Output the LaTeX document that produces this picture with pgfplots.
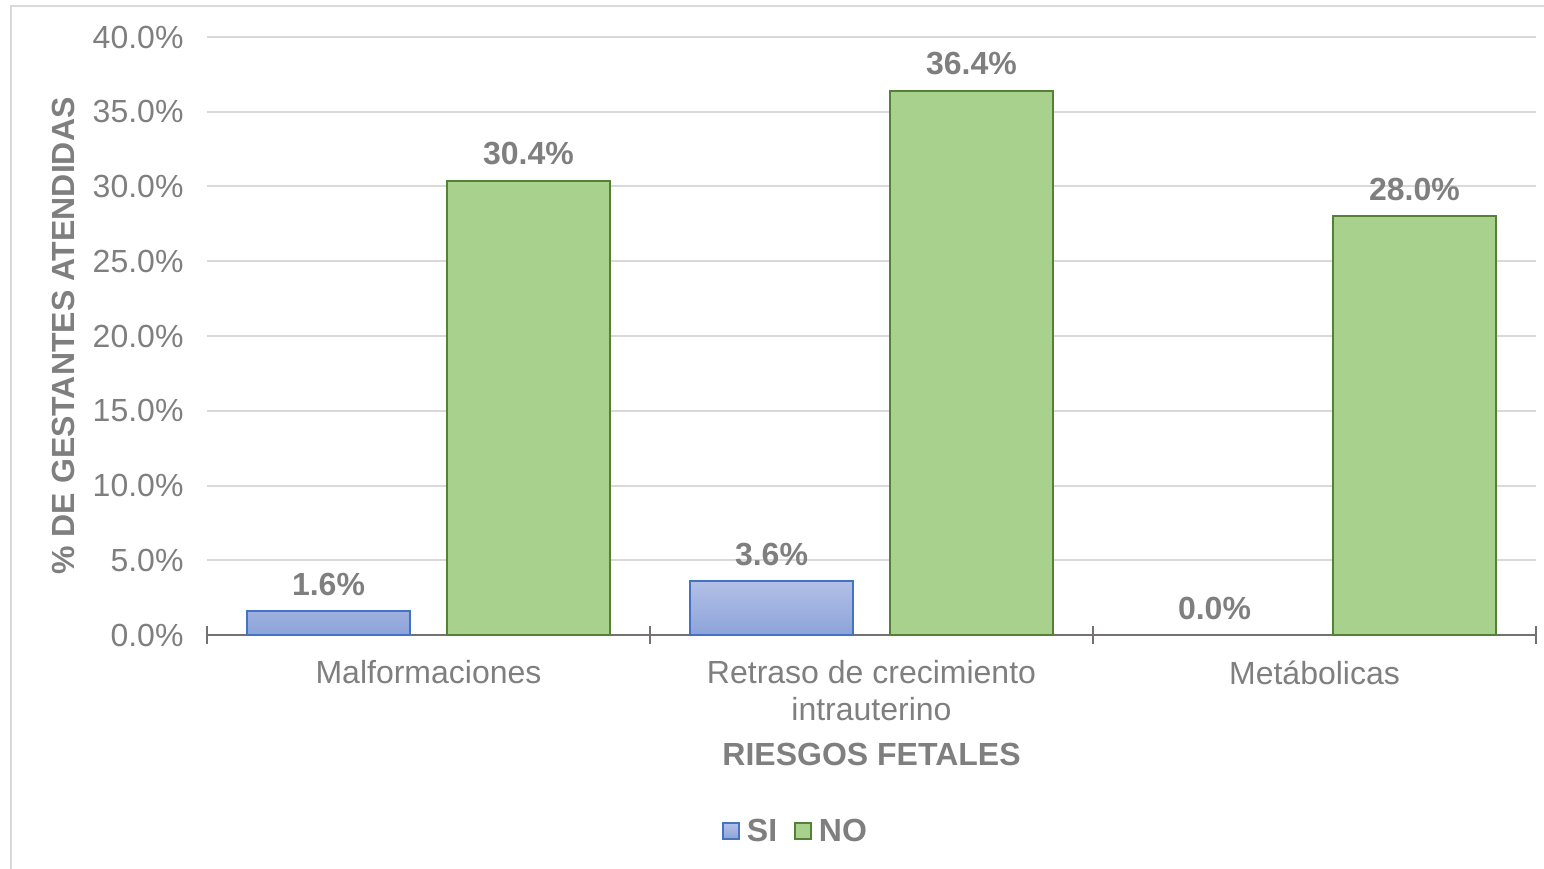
\documentclass[border=0pt]{standalone}
\usepackage{fontspec}
\setmainfont{Liberation Sans}
\usepackage{pgfplots}
\pgfplotsset{compat=1.18}
\definecolor{txt}{HTML}{7F7F7F}
\definecolor{gridc}{HTML}{D9D9D9}
\definecolor{axc}{HTML}{767171}
\definecolor{sitop}{HTML}{B3C0E6}
\definecolor{sibot}{HTML}{8CA3D9}
\definecolor{siedge}{HTML}{4472C4}
\definecolor{nofill}{HTML}{A9D18E}
\definecolor{noedge}{HTML}{548235}
\begin{document}
\begin{tikzpicture}[x=1pt,y=1pt]
\useasboundingbox (0,0) rectangle (1544,868);
\draw[gridc,line width=2pt] (10.5,-5) -- (10.5,861.5) -- (1560,861.5);
\begin{axis}[
  at={(207pt,233pt)}, anchor=south west,
  scale only axis, width=1329pt, height=598pt,
  ybar, bar width=163pt,
  xmin=-0.5, xmax=2.5, ymin=0, ymax=40,
  xtick={-0.5,0.5,1.5,2.5},
  xticklabels={},
  extra x ticks={0,1,2},
  extra x tick labels={Malformaciones,{Retraso de crecimiento\\intrauterino},Metábolicas},
  extra x tick style={major tick length=0pt, xticklabel style={align=center}},
  ytick={0,5,...,40},
  yticklabel={\pgfmathprintnumber[fixed,fixed zerofill,precision=1]{\tick}\%},
  /pgf/number format/assume math mode=true,
  axis y line*=left, axis x line*=bottom,
  y axis line style={draw=none},
  x axis line style={draw=axc, line width=2.5pt},
  ymajorgrids, grid style={gridc, line width=2pt},
  major tick style={axc, line width=2.5pt},
  tick align=center, major tick length=18pt,
  ytick style={draw=none},
  yticklabel style={font=\fontsize{32}{37}\selectfont, text=txt, xshift=-11pt},
  xticklabel style={font=\fontsize{32}{37}\selectfont, text=txt, yshift=-22pt},
  ylabel={\bfseries \% DE GESTANTES ATENDIDAS},
  ylabel style={font=\fontsize{32}{37}\selectfont, text=txt, at={(-144pt,299pt)}, anchor=center, rotate=0},
  xlabel={\bfseries RIESGOS FETALES},
  xlabel style={font=\fontsize{32}{37}\selectfont, text=txt, at={(664.5pt,-119pt)}, anchor=center},
  nodes near coords={\pgfmathprintnumber[fixed,fixed zerofill,precision=1]{\pgfplotspointmeta}\%},
  every node near coord/.append style={font=\fontsize{32}{37}\bfseries, text=txt, anchor=south, inner sep=0pt, yshift=15pt, text depth=0pt},
  legend style={at={(515pt,-196pt)}, anchor=west, draw=none, legend columns=2,
    font=\fontsize{32}{37}\bfseries, text=txt, inner sep=0pt,
    /tikz/every even column/.append style={column sep=15pt},
    /tikz/every odd column/.append style={column sep=0pt}},
  legend image code/.code={\draw[#1, line width=1.5pt] (0,-8pt) rectangle (16pt,8pt); \path (21pt,0pt);},
  clip=false,
]
\addplot[bar shift=-100pt, draw=siedge, line width=2pt, top color=sitop, bottom color=sibot] coordinates {(0,1.6) (1,3.6)};
\addplot[bar shift=100pt, draw=noedge, line width=2pt, fill=nofill] coordinates {(0,30.4) (1,36.4) (2,28.0)};
\addplot[bar shift=-100pt, draw=none, fill=none, forget plot] coordinates {(2,0.0)};
\legend{SI,NO}
\end{axis}
\end{tikzpicture}
\end{document}
